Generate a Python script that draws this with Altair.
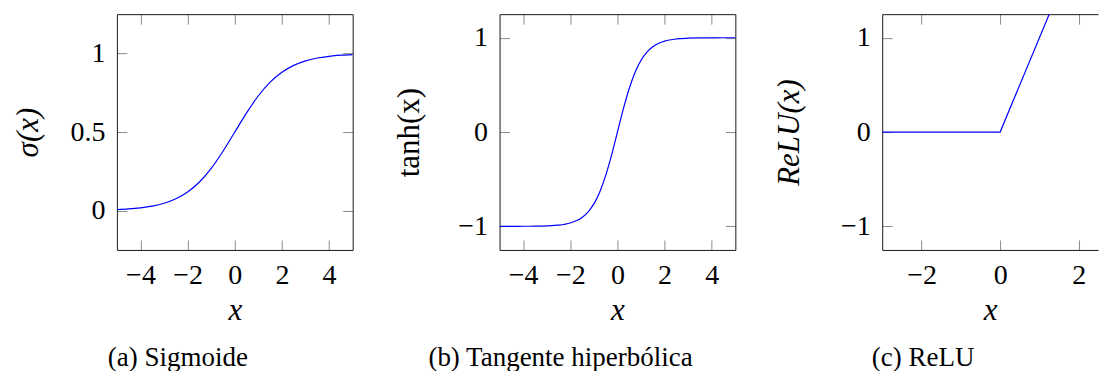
import altair as alt
import pandas as pd

# ---- data ----
sig_x = [-5, -4.5, -4, -3.5, -3, -2.5, -2, -1.5, -1, -0.5, 0, 0.5, 1, 1.5, 2, 2.5, 3, 3.5, 4, 4.5, 5]
sig_y = [0.007, 0.011, 0.018, 0.029, 0.047, 0.076, 0.119, 0.182, 0.269, 0.378, 0.5,
         0.622, 0.731, 0.818, 0.881, 0.924, 0.953, 0.971, 0.982, 0.989, 0.993]

tanh_x = [-5, -4.5, -4, -3.5, -3, -2.5, -2, -1.75, -1.5, -1.25, -1, -0.75, -0.5, -0.25, 0,
          0.25, 0.5, 0.75, 1, 1.25, 1.5, 1.75, 2, 2.5, 3, 3.5, 4, 4.5, 5]
tanh_y = [-1.0, -1.0, -0.999, -0.998, -0.995, -0.987, -0.964, -0.941, -0.905, -0.848, -0.762,
          -0.635, -0.462, -0.245, 0.0, 0.245, 0.462, 0.635, 0.762, 0.848, 0.905, 0.941, 0.964,
          0.987, 0.995, 0.998, 0.999, 1.0, 1.0]

relu_x = [-3, 0, 3]
relu_y = [0, 0, 3]

xticks_ab = [-4, -2, 0, 2, 4]
xticks_c = [-2, 0, 2]
yticks_a = [0, 0.5, 1]
yticks_bc = [-1, 0, 1]

captions = ["(a) Sigmoide", "(b) Tangente hiperbólica", "(c) ReLU"]
ytitles = ["σ(x)", "tanh(x)", "ReLU(x)"]

FONT = "Liberation Serif"
FRAME = "#1a1a1a"
H = 236
TICK = 10


def panel(xs, ys, xdom, ydom, xticks, yticks, ytitle, ystyle, caption, interp,
          width, ytp, right_edge=True):
    df = pd.DataFrame({"x": xs, "y": ys})
    xs_ = alt.Scale(domain=xdom, nice=False, zero=False)
    ys_ = alt.Scale(domain=ydom, nice=False, zero=False)
    rtick = TICK if right_edge else 0
    main = alt.Chart(df).mark_line(color="#0000ff", strokeWidth=1.2, clip=True,
                                   interpolate=interp).encode(
        x=alt.X("x:Q", scale=xs_,
                axis=alt.Axis(orient="bottom", offset=-H, values=xticks, format="~g",
                              tickSize=TICK, labelPadding=238, title="x",
                              titleFontStyle="italic", titleFontSize=31, titlePadding=6)),
        y=alt.Y("y:Q", scale=ys_,
                axis=alt.Axis(orient="left", offset=-width, values=yticks, format="~g",
                              tickSize=rtick, labelPadding=width + 12 - rtick,
                              domain=right_edge, title=ytitle,
                              titleFontStyle=ystyle, titleFontSize=31, titlePadding=ytp)),
    )
    ticks = alt.Chart(df).mark_line(opacity=0, clip=True).encode(
        x=alt.X("x:Q", scale=xs_,
                axis=alt.Axis(orient="top", offset=-H, values=xticks, labels=False,
                              tickSize=TICK, title=None)),
        y=alt.Y("y:Q", scale=ys_,
                axis=alt.Axis(orient="right", offset=-width, values=yticks, labels=False,
                              tickSize=TICK, title=None)),
    )
    return alt.layer(main, ticks).resolve_axis(x="independent", y="independent").properties(
        width=width, height=H,
        title=alt.TitleParams(caption, orient="bottom", anchor="middle", frame="group",
                              dx=-57 - (236 - width) / 2, offset=19, font=FONT, fontSize=27,
                              fontWeight="normal", color="black"),
    )


p1 = panel(sig_x, sig_y, [-5, 5], [-0.25, 1.25], xticks_ab, yticks_a, ytitles[0],
           "italic", captions[0], "monotone", 236, 25)
p2 = panel(tanh_x, tanh_y, [-5, 5], [-1.25, 1.25], xticks_ab, yticks_bc, ytitles[1],
           "normal", captions[1], "monotone", 236, 32)
# third panel is cut by the right edge of the picture (shown range -3 .. ~2.49)
p3 = panel(relu_x, relu_y, [-3, 2.49], [-1.25, 1.25], xticks_c, yticks_bc, ytitles[2],
           "italic", captions[2], "linear", 216, 35, right_edge=False)

chart = alt.hconcat(p1, p2, p3, spacing=147, bounds="flush").properties(
    padding={"left": 5, "top": 5, "right": 0, "bottom": 0}
).configure_view(
    stroke=None
).configure_axis(
    labelFont=FONT, titleFont=FONT, labelFontSize=28,
    labelColor="black", titleColor="black", titleFontWeight="normal",
    tickColor="#8c8c8c", tickWidth=1, domainColor=FRAME, domainWidth=1, grid=False,
    labelOverlap=False, labelFlush=False, maxExtent=1000, minExtent=0
)

chart.save("out.html", embed_options={"renderer": "svg", "actions": False})
